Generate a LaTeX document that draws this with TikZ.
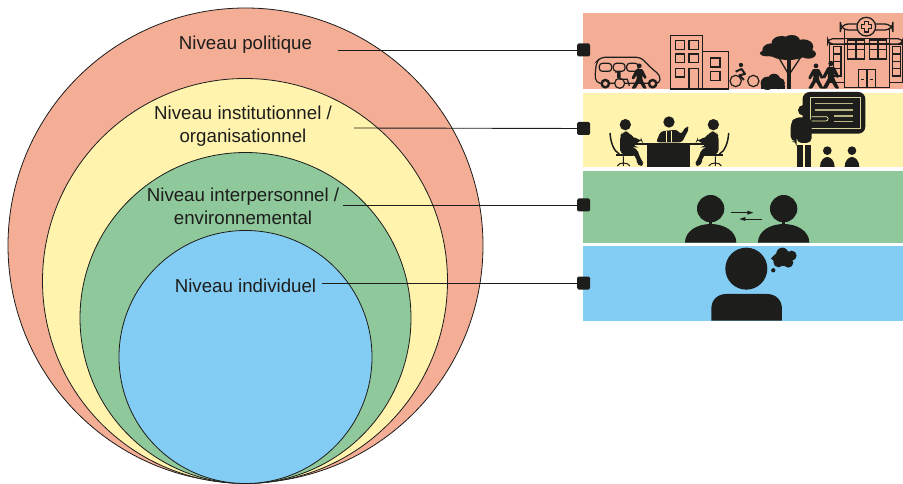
\documentclass[tikz,border=0pt]{standalone}
\usepackage{fontspec}
\setmainfont{Liberation Sans}
\definecolor{salmon}{HTML}{F5AE96}
\definecolor{pale}{HTML}{FFF3AE}
\definecolor{leaf}{HTML}{8FC89B}
\definecolor{sky}{HTML}{83CDF5}
\definecolor{ink}{HTML}{1D1D1B}
\tikzset{
  ring/.style={draw=ink,line width=0.8pt},
  lbl/.style={font=\fontsize{18.7}{23}\selectfont,text=ink,align=center,inner sep=0pt},
  band/.style={inner sep=0pt,minimum width=320pt,anchor=north west},
  pin/.style={fill=ink,rounded corners=1.5pt,minimum size=13pt,inner sep=0pt},
  link/.style={draw=ink,line width=0.9pt},
  zoomed/.style={x=0.3333pt,y=-0.3333pt},
  thin line/.style={draw=ink,line width=1.2pt},
}
\newcommand{\walkfig}[3]{% x y (feet), scale
  \begin{scope}[shift={(#1,#2)},scale=#3]
    \fill[ink] (0,-72) circle (7.5);
    \fill[ink,rounded corners=1pt] (-10,-62) -- (10,-62) -- (24,-34) -- (16,-30) -- (9,-44) -- (10,-28) -- (24,0) -- (13,0) -- (0,-22) -- (-12,0) -- (-25,0) -- (-9,-28) -- (-8,-44) -- (-18,-28) -- (-25,-33) -- cycle;
  \end{scope}}
\newcommand{\seated}{%
  \fill[ink] (166,110) circle (17);
  \fill[ink,rounded corners=5pt] (150,200) -- (150,145) -- (158,130) -- (178,130) -- (188,152) -- (214,152) -- (218,162) -- (190,164) -- (190,178) -- (200,178) -- (212,214) -- (226,232) -- (202,236) -- (198,200) -- cycle;
  \draw[ink,line width=1.5pt] (120,135) .. controls (122,165) and (132,190) .. (148,198);
  \fill[ink] (138,198) rectangle (190,205);
  \draw[ink,line width=1pt] (160,205) -- (160,222) (142,234) .. controls (146,222) and (174,222) .. (180,234) (160,222) -- (160,234);
}
\begin{document}
\begin{tikzpicture}[x=1pt,y=-1pt]
\useasboundingbox (0,0) rectangle (903,484);
% circles
\node[ring,circle,fill=salmon,minimum size=475pt,inner sep=0pt] (c1) at (245.5,245.5) {};
\node[ring,circle,fill=pale,minimum size=405pt,inner sep=0pt] (c2) at (245,281) {};
\node[ring,circle,fill=leaf,minimum size=331pt,inner sep=0pt] (c3) at (245.5,318) {};
\node[ring,circle,fill=sky,minimum size=253pt,inner sep=0pt] (c4) at (245.5,357) {};
% labels
\node[lbl] (l1) at (245.5,45) {Niveau politique};
\node[lbl] (l2) at (243,126.5) {Niveau institutionnel /\\organisationnel};
\node[lbl] (l3) at (243,206.5) {Niveau interpersonnel /\\environnemental};
\node[lbl] (l4) at (245.5,285.5) {Niveau individuel};
% bands
\node[band,fill=salmon,minimum height=76pt] (b1) at (583,13) {};
\node[band,fill=pale,minimum height=74pt] (b2) at (583,93) {};
\node[band,fill=leaf,minimum height=72pt] (b3) at (583,171) {};
\node[band,fill=sky,minimum height=75pt] (b4) at (583,246) {};
% pins
\node[pin] (p1) at (583.5,50) {};
\node[pin] (p2) at (583.5,128.5) {};
\node[pin] (p3) at (583.5,205) {};
\node[pin] (p4) at (583.5,283) {};
% connector ends
\coordinate (s1) at (338,50);
\coordinate (s2) at (354,128);
\coordinate (s3) at (343,205);
\coordinate (s4) at (322,283);
\draw[link] (s1) -- (p1);
\draw[link] (s2) -- (p2);
\draw[link] (s3) -- (p3);
\draw[link] (s4) -- (p4);
% icons of band 1
\begin{scope}[shift={(570,0)},zoomed]
  % van
  \draw[thin line,rounded corners=4pt] (92,250) -- (78,248) -- (75,222) -- (80,185) -- (92,172) -- (212,172) -- (250,210) -- (270,225) -- (270,250) -- (92,250);
  \draw[thin line,rounded corners=3pt] (88,190) rectangle (125,214);
  \draw[thin line,rounded corners=3pt] (130,190) rectangle (165,214);
  \draw[thin line,rounded corners=3pt] (170,190) rectangle (205,214);
  \draw[ink,fill=salmon,line width=2.4pt] (106,251) circle (11);
  \draw[ink,fill=salmon,line width=2.4pt] (248,251) circle (11);
  \draw[thin line,fill=salmon] (149,250) circle (15);
  \draw[thin line] (135,216) -- (150,216) -- (150,238) -- (172,238) -- (178,258);
  \fill[ink] (142,214) rectangle (150,235);
  \walkfig{208}{266}{0.95}
  % buildings
  \draw[ink,line width=1.3pt] (302,107) rectangle (397,267);
  \draw[ink,line width=1.3pt] (397,155) rectangle (475,267);
  \foreach \xa in {316,357}{
    \foreach \ya in {122,162}{\draw[thin line] (\xa,\ya) rectangle ++(28,26);}}
  \draw[thin line] (316,205) rectangle ++(28,26);
  \draw[thin line] (357,205) rectangle (385,267);
  \draw[thin line] (421,174) rectangle ++(29,27);
  \draw[thin line] (421,215) rectangle ++(29,27);
  % bicycle
  \draw[thin line] (497,243) circle (17);
  \draw[thin line] (550,243) circle (17);
  \fill[ink] (513,195) circle (6.5);
  \draw[ink,line width=2pt,line join=round] (497,215) -- (515,207) -- (525,222) -- (508,226) -- (522,240);
  % bush
  \fill[ink] (592,250) circle (20) (612,240) circle (19) (628,250) circle (17) (600,258) circle (10) (625,260) circle (8);
  \fill[ink] (572,267) rectangle (645,255);
  % tree
  \fill[ink] (605,150) ellipse (28 and 20) (635,128) ellipse (30 and 20) (665,122) ellipse (25 and 17) (700,140) ellipse (30 and 22) (715,162) ellipse (23 and 14) (655,155) ellipse (60 and 25) (590,160) ellipse (20 and 9);
  \fill[ink] (650,180) -- (664,180) -- (664,267) -- (650,267) -- cycle;
  \draw[ink,line width=1.3pt] (657,225) -- (626,172) (657,225) -- (692,172);
  % hospital
  \draw[thin line,fill=salmon] (778,132) rectangle (823,247);
  \draw[thin line,fill=salmon] (958,132) rectangle (999,247);
  \draw[thin line,fill=salmon,rounded corners=5pt] (773,116) rectangle (999,132);
  \draw[ink,line width=1.3pt,fill=salmon] (823,88) rectangle (959,263);
  \draw[ink,line width=1.3pt,fill=salmon,rounded corners=8pt] (811,72) rectangle (969,90);
  \draw[ink,line width=1.3pt,fill=salmon] (889,80) circle (28);
  \draw[thin line,line join=round] (883,65) -- (895,65) -- (895,74) -- (904,74) -- (904,86) -- (895,86) -- (895,96) -- (883,96) -- (883,86) -- (874,86) -- (874,74) -- (883,74) -- cycle;
  \draw[thin line] (823,116) -- (959,116) (823,132) -- (959,132);
  \draw[thin line] (832,120) rectangle (884,177) (858,120) -- (858,177) (832,149) -- (884,149);
  \draw[thin line] (898,120) rectangle (950,177) (924,120) -- (924,177) (898,149) -- (950,149);
  \draw[thin line] (790,140) rectangle (813,228) (790,162) -- (813,162) (790,184) -- (813,184) (790,206) -- (813,206);
  \draw[thin line] (968,140) rectangle (991,228) (968,162) -- (991,162) (968,184) -- (991,184) (968,206) -- (991,206);
  \draw[thin line] (865,209) rectangle (917,263) (891,209) -- (891,263);
  \draw[ink,line width=1.4pt] (873,239) -- (882,239) (899,239) -- (909,239);
  \walkfig{738}{266}{0.95}
  \walkfig{783}{266}{1.05}
\end{scope}
% icons of band 2
\begin{scope}[shift={(570,88)},zoomed]
  \seated
  \begin{scope}[xshift=198.7pt,xscale=-1]
    \seated
  \end{scope}
  % centre figure
  \fill[ink] (297,102) circle (17);
  \fill[ink,rounded corners=3pt] (258,163) -- (272,130) -- (322,125) -- (332,140) -- (349,114) -- (358,120) -- (336,163) -- cycle;
  \draw[pale,line width=1pt] (289,128) -- (289,163) (305,128) -- (305,163);
  % table
  \fill[ink] (190,166) rectangle (402,170);
  \fill[ink] (232,170) rectangle (360,237);
  % teacher
  \fill[ink,rounded corners=7pt] (698,12) rectangle (886,137);
  \draw[pale!85!ink,line width=0.7pt] (722,28) rectangle (870,120);
  \foreach \ya in {47,66}{\draw[pale!70!ink,line width=1.2pt] (735,\ya) -- (848,\ya);}
  \foreach \ya in {84,101}{\draw[pale!70!ink,line width=1.2pt] (792,\ya) -- (848,\ya);}
  \fill[ink] (700,67) circle (16);
  \fill[ink,rounded corners=5pt] (675,88) -- (725,88) -- (725,165) -- (680,165) -- (680,160) -- (662,160) -- (662,105) -- cycle;
  \draw[pale,fill=ink,line width=0.7pt] (725,86) -- (768,86) arc (-90:90:6.5) -- (725,99);
  \fill[ink] (682,170) rectangle (700,237);
  \fill[ink] (705,170) rectangle (722,237);
  \foreach \xa in {772,846}{
    \fill[ink] (\xa,188) circle (13);
    \fill[ink] (\xa-22,237) .. controls (\xa-22,218) and (\xa-10,207) .. (\xa,207) .. controls (\xa+10,207) and (\xa+22,218) .. (\xa+22,237) -- cycle;
  }
\end{scope}
% icons of bands 3 and 4
\begin{scope}[shift={(570,165)},zoomed]
  \foreach \xa in {422,641}{
    \fill[ink] (\xa,131) circle (41);
    \fill[ink] (\xa-5,165) rectangle (\xa+5,182);
    \fill[ink] (\xa-77,233) .. controls (\xa-77,198) and (\xa-40,177) .. (\xa,177) .. controls (\xa+40,177) and (\xa+77,198) .. (\xa+77,233) -- cycle;
  }
  \draw[ink,line width=0.9pt] (482,143) -- (536,143);
  \fill[ink] (550,143) -- (532,137) -- (532,149) -- cycle;
  \draw[ink,line width=0.9pt] (575,162) -- (522,162);
  \fill[ink] (508,162) -- (526,156) -- (526,168) -- cycle;
  \fill[ink] (529,311) circle (63);
  \fill[ink] (424,467) -- (424,432) .. controls (424,405) and (442,387) .. (470,387) -- (590,387) .. controls (618,387) and (636,405) .. (636,432) -- (636,467) -- cycle;
  \fill[ink] (626,291) circle (16) (637,266) circle (18) (665,272) circle (15) (655,293) circle (15);
  \fill[ink] (642,279) circle (24);
  \fill[ink] (603,280) -- (624,260) -- (640,280) -- (624,300) -- cycle;
  \fill[ink] (610,316) circle (6.5);
\end{scope}
\end{tikzpicture}
\end{document}
